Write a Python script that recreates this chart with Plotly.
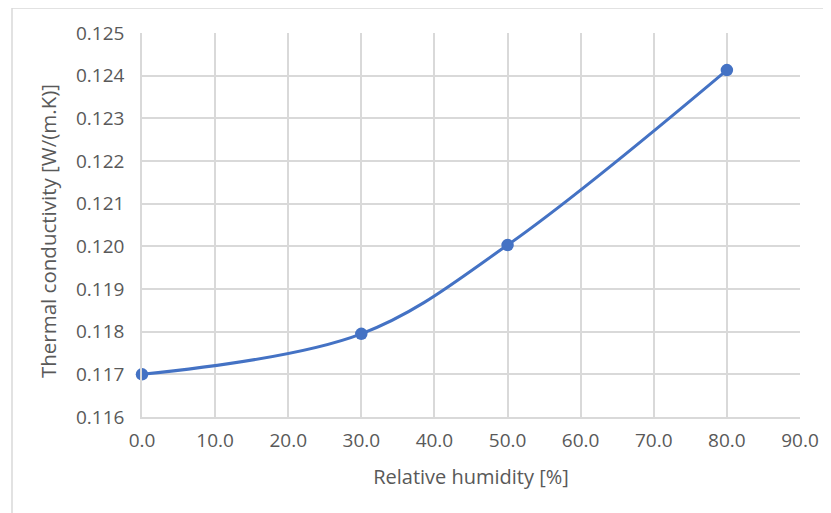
import plotly.graph_objects as go

humidity = [0, 30, 50, 80]
conductivity = [0.1170, 0.11795, 0.12003, 0.12413]
x_ticks = [0, 10, 20, 30, 40, 50, 60, 70, 80, 90]
y_ticks = [0.116, 0.117, 0.118, 0.119, 0.120, 0.121, 0.122, 0.123, 0.124, 0.125]
x_title = "Relative humidity [%]"
y_title = "Thermal conductivity [W/(m.K)]"

# page has an 8px body margin, so the figure is sized to fit the window
W, H = 823, 505
L, R, T, B = 134, 31, 25, 96
pw, ph = W - L - R, H - T - B

fig = go.Figure()
fig.add_trace(go.Scatter(
    x=humidity, y=conductivity, mode="lines+markers",
    line=dict(color="#4472C4", width=3, shape="spline", smoothing=1),
    marker=dict(color="#4472C4", size=12.5),
    showlegend=False, cliponaxis=False,
))

font = "'Open Sans', sans-serif"
fig.update_layout(
    width=W, height=H,
    margin=dict(l=L, r=R, t=T, b=B),
    paper_bgcolor="white", plot_bgcolor="white",
    font=dict(family=font, color="#595959", size=19),
    xaxis=dict(
        range=[0, 90], tickvals=x_ticks,
        ticktext=[f"{v:.1f}" for v in x_ticks],
        tickfont=dict(size=19),
        showgrid=True, gridcolor="#D9D9D9", gridwidth=1.5,
        showline=True, linecolor="#D9D9D9", linewidth=1.5,
        zeroline=False, ticks="", ticklabelstandoff=5,
        title=dict(text=x_title, standoff=18,
                   font=dict(size=20, color="#595959")),
    ),
    yaxis=dict(
        range=[0.116, 0.125], tickvals=y_ticks,
        ticktext=[f"{v:.3f}" for v in y_ticks],
        tickfont=dict(size=19),
        showgrid=True, gridcolor="#D9D9D9", gridwidth=1.5,
        showline=True, linecolor="#D9D9D9", linewidth=1.5,
        zeroline=False, ticks="", ticklabelstandoff=12,
    ),
    annotations=[dict(
        text=y_title, textangle=-90, xref="paper", yref="paper",
        x=(40 - L) / pw, y=(H - B - 223) / ph,
        xanchor="center", yanchor="middle", showarrow=False,
        font=dict(size=20.5, color="#595959"),
    )],
)

# outer chart border
fig.add_shape(type="rect", xref="paper", yref="paper",
              x0=(4 - L) / pw, x1=(W + 20 - L) / pw,
              y0=-(B + 20) / ph, y1=1 + T / ph,
              line=dict(color="#D9D9D9", width=1.5), layer="below")

fig.write_html("out.html")
